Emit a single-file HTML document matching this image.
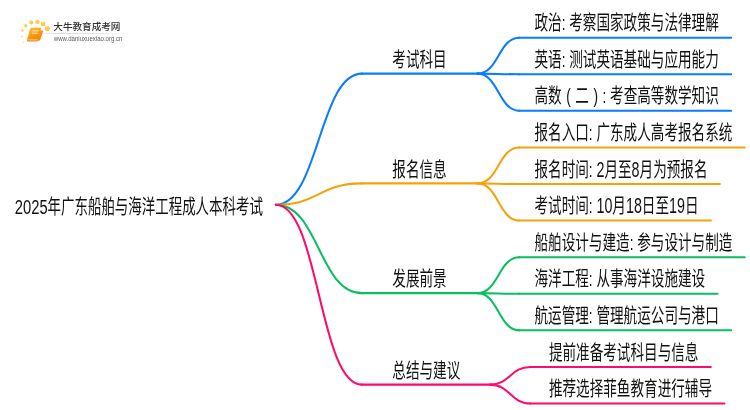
<!DOCTYPE html>
<html lang="zh-CN"><head><meta charset="utf-8"><title>2025年广东船舶与海洋工程成人本科考试</title>
<style>
html,body{margin:0;padding:0;background:#fff;}
body{width:750px;height:410px;overflow:hidden;}
svg{display:block;will-change:transform;}
.mm text{font-family:"Liberation Sans","Noto Sans CJK SC",sans-serif;font-size:20.4px;fill:#111;}
.mm path{fill:none;stroke-width:2.05;stroke-linecap:round;}
</style></head><body>
<svg width="750" height="410" viewBox="0 0 750 410">
<rect width="750" height="410" fill="#fff"/>
<g class="mm">
<path d="M275.80,204.80C318.90,204.80 318.90,73.64 362.00,73.64" stroke="#0a7dff"/>
<path d="M361.50,73.64H477.50" stroke="#0a7dff"/>
<path d="M477.50,73.64C498.50,73.64 498.50,37.65 519.50,37.65" stroke="#0a7dff"/>
<path d="M519.00,37.65H731.16" stroke="#0a7dff"/>
<path d="M477.50,73.64C498.50,73.64 498.50,74.23 519.50,74.23" stroke="#0a7dff"/>
<path d="M519.00,74.23H731.16" stroke="#0a7dff"/>
<path d="M477.50,73.64C498.50,73.64 498.50,110.82 519.50,110.82" stroke="#0a7dff"/>
<path d="M519.00,110.82H731.16" stroke="#0a7dff"/>
<path d="M275.80,204.80C318.90,204.80 318.90,183.39 362.00,183.39" stroke="#f5a30a"/>
<path d="M361.50,183.39H477.50" stroke="#f5a30a"/>
<path d="M477.50,183.39C498.50,183.39 498.50,147.41 519.50,147.41" stroke="#f5a30a"/>
<path d="M519.00,147.41H744.76" stroke="#f5a30a"/>
<path d="M477.50,183.39C498.50,183.39 498.50,183.99 519.50,183.99" stroke="#f5a30a"/>
<path d="M519.00,183.99H719.87" stroke="#f5a30a"/>
<path d="M477.50,183.39C498.50,183.39 498.50,220.58 519.50,220.58" stroke="#f5a30a"/>
<path d="M519.00,220.58H710.90" stroke="#f5a30a"/>
<path d="M275.80,204.80C318.90,204.80 318.90,293.14 362.00,293.14" stroke="#0abf60"/>
<path d="M361.50,293.14H477.50" stroke="#0abf60"/>
<path d="M477.50,293.14C498.50,293.14 498.50,257.16 519.50,257.16" stroke="#0abf60"/>
<path d="M519.00,257.16H744.76" stroke="#0abf60"/>
<path d="M477.50,293.14C498.50,293.14 498.50,293.75 519.50,293.75" stroke="#0abf60"/>
<path d="M519.00,293.75H717.56" stroke="#0abf60"/>
<path d="M477.50,293.14C498.50,293.14 498.50,330.33 519.50,330.33" stroke="#0abf60"/>
<path d="M519.00,330.33H731.16" stroke="#0abf60"/>
<path d="M275.80,204.80C318.90,204.80 318.90,384.61 362.00,384.61" stroke="#ff0a6e"/>
<path d="M361.50,384.61H490.00" stroke="#ff0a6e"/>
<path d="M490.00,384.61C510.25,384.61 510.25,366.91 530.50,366.91" stroke="#ff0a6e"/>
<path d="M530.00,366.91H710.80" stroke="#ff0a6e"/>
<path d="M490.00,384.61C510.25,384.61 510.25,403.50 530.50,403.50" stroke="#ff0a6e"/>
<path d="M530.00,403.50H724.40" stroke="#ff0a6e"/>
<text transform="translate(392.30,66.83) scale(0.6667,1)">考试科目</text>
<text transform="translate(534.50,30.25) scale(0.6667,1)">政治: 考察国家政策与法律理解</text>
<text transform="translate(534.50,66.83) scale(0.6667,1)">英语: 测试英语基础与应用能力</text>
<text transform="translate(534.50,103.42) scale(0.6667,1)">高数</text>
<text transform="translate(568.50,103.42) scale(0.6667,1)" text-anchor="middle">(</text>
<text transform="translate(575.30,103.42) scale(0.6667,1)">二</text>
<text transform="translate(595.70,103.42) scale(0.6667,1)" text-anchor="middle">)</text>
<text transform="translate(602.50,103.42) scale(0.6667,1)">: 考查高等数学知识</text>
<text transform="translate(392.30,176.59) scale(0.6667,1)">报名信息</text>
<text transform="translate(534.50,140.00) scale(0.6667,1)">报名入口: 广东成人高考报名系统</text>
<text transform="translate(534.50,176.59) scale(0.6667,1)">报名时间: <tspan font-size="21.46">2</tspan>月至<tspan font-size="21.46">8</tspan>月为预报名</text>
<text transform="translate(534.50,213.18) scale(0.6667,1)">考试时间: <tspan font-size="21.46">10</tspan>月<tspan font-size="21.46">18</tspan>日至<tspan font-size="21.46">19</tspan>日</text>
<text transform="translate(392.30,286.35) scale(0.6667,1)">发展前景</text>
<text transform="translate(534.50,249.76) scale(0.6667,1)">船舶设计与建造: 参与设计与制造</text>
<text transform="translate(534.50,286.35) scale(0.6667,1)">海洋工程: 从事海洋设施建设</text>
<text transform="translate(534.50,322.93) scale(0.6667,1)">航运管理: 管理航运公司与港口</text>
<text transform="translate(392.30,377.81) scale(0.6667,1)">总结与建议</text>
<text transform="translate(548.90,359.51) scale(0.6667,1)">提前准备考试科目与信息</text>
<text transform="translate(548.90,396.10) scale(0.6667,1)">推荐选择菲鱼教育进行辅导</text>
<text transform="translate(14.8,213.8) scale(0.7230,1)">2025</text>
<text transform="translate(47.60,213.8) scale(0.6603,1)">年广东船舶与海洋工程成人本科考试</text>
</g>
<defs>
<linearGradient id="bk" x1="0.2" y1="0" x2="0.6" y2="1">
<stop offset="0" stop-color="#ffbe2e"/><stop offset="0.55" stop-color="#fb9a10"/><stop offset="1" stop-color="#f07c00"/>
</linearGradient>
<linearGradient id="ln" x1="0" y1="0" x2="1" y2="0">
<stop offset="0" stop-color="#f4f4f4"/><stop offset="0.12" stop-color="#d6d6d6"/><stop offset="0.6" stop-color="#e2e2e2"/><stop offset="1" stop-color="#ffffff"/>
</linearGradient>
<radialGradient id="dt" cx="0.4" cy="0.4" r="0.7">
<stop offset="0" stop-color="#ffd95a"/><stop offset="1" stop-color="#ffb52a"/>
</radialGradient>
</defs>
<g class="logo">
<circle cx="23.5" cy="42.5" r="0.9" fill="#ffe9a8"/>
<circle cx="21.7" cy="36.5" r="1.1" fill="#ffdf88"/>
<circle cx="22.4" cy="30.6" r="1.4" fill="#ffd468"/>
<circle cx="25.8" cy="25.7" r="1.7" fill="#ffcc50"/>
<circle cx="31.2" cy="22.5" r="1.9" fill="url(#dt)"/>
<circle cx="37.4" cy="21.8" r="2.1" fill="url(#dt)"/>
<circle cx="43.0" cy="24.0" r="2.3" fill="url(#dt)"/>
<circle cx="47.3" cy="28.5" r="2.5" fill="url(#dt)"/>
<path d="M40.6,30.6 L42.4,30.6 Q43.2,30.6 43,31.6 L40.2,40 Q39.9,40.8 39,40.8 L37.6,40.8 Z" fill="#f48a0c"/>
<path d="M31.8,27.8 L40,27.8 Q41.4,27.8 41,29.2 L38.2,40.2 Q37.8,41.6 36.4,41.6 L28.2,41.6 Q26.6,41.6 27,40.2 L29.9,29.2 Q30.3,27.8 31.8,27.8 Z" fill="url(#bk)"/>
<path d="M32.4,30.9 H38.4 M31.8,33.2 H37.8" stroke="#fff3d6" stroke-width="0.9" fill="none"/>
<path d="M28.4,39.9 H37.6" stroke="#fff0cc" stroke-width="0.8" fill="none"/>
<rect x="43" y="33.15" width="91" height="0.9" fill="url(#ln)"/>
<text x="53.3" y="30.25" font-size="9.6" font-weight="500" fill="#333" font-family="'Liberation Sans','Noto Sans CJK SC',sans-serif">大牛教育成考网</text>
<text x="53.8" y="40.7" font-size="7.2" fill="#5a5a5a" textLength="68.6" lengthAdjust="spacingAndGlyphs" font-family="'Liberation Sans',sans-serif">www.daniuxuexiao.org.cn</text>
</g>

</svg>
</body></html>
